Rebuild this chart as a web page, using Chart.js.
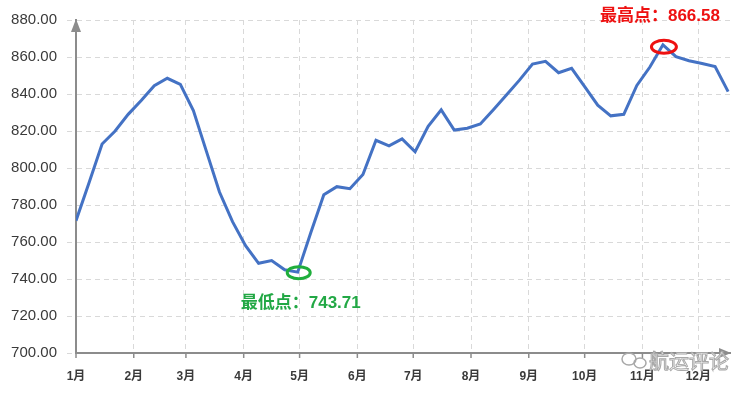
<!DOCTYPE html>
<html>
<head>
<meta charset="utf-8">
<script src="https://cdn.jsdelivr.net/npm/chart.js@4.4.1/dist/chart.umd.min.js"></script>
<style>
  html, body { margin: 0; padding: 0; background: #fff; }
  #wrap { width: 747px; height: 393px; }
</style>
</head>
<body>
<div id="wrap"><canvas id="lineChart"></canvas></div>
<script>
// Month labels and the day of year each month starts on
const monthLabels = ['1月', '2月', '3月', '4月', '5月', '6月', '7月', '8月', '9月', '10月', '11月', '12月'];
const monthStartDays = [0, 31, 59, 90, 120, 151, 181, 212, 243, 273, 304, 334];

// Weekly index values (one per week)
const weeklyIndex = [
    771.5, 792.0, 813.0, 820.0, 829.0, 836.5, 844.5, 848.5, 845.2, 831.0,
    809.0, 787.0, 771.0, 758.0, 748.5, 750.0, 745.0, 743.71, 765.0, 785.5,
    789.9, 788.8, 796.5, 815.0, 812.0, 815.7, 808.8, 822.5, 831.4, 820.5,
    821.5, 823.8, 831.5, 839.5, 847.5, 856.2, 857.7, 851.5, 853.9, 844.0,
    834.0, 828.2, 829.0, 844.6, 854.6, 866.58, 860.2, 858.0, 856.5, 854.8,
    841.3
];
const daysPerWeek = 7;

// Y axis ticks
const yMin = 700;
const yMax = 880;
const yStep = 20;

const axisGray = '#8c8c8c';
const gridGray = '#d9d9d9';

// Arrows, month tick marks, high/low markers and watermark
const decorations = {
    id: 'decorations',
    afterDraw(chart) {
        const { ctx, chartArea: a, scales: { x, y } } = chart;
        ctx.save();

        // axis arrows
        ctx.fillStyle = axisGray;
        ctx.beginPath();
        ctx.moveTo(a.left, a.top - 1);
        ctx.lineTo(a.left - 5, a.top + 12);
        ctx.lineTo(a.left + 5, a.top + 12);
        ctx.closePath();
        ctx.fill();
        ctx.beginPath();
        ctx.moveTo(a.right + 1, a.bottom);
        ctx.lineTo(a.right - 11, a.bottom - 5);
        ctx.lineTo(a.right - 11, a.bottom + 5);
        ctx.closePath();
        ctx.fill();

        // month tick marks under the x axis
        ctx.strokeStyle = axisGray;
        ctx.lineWidth = 1.5;
        monthStartDays.forEach(d => {
            const px = x.getPixelForValue(d);
            ctx.beginPath();
            ctx.moveTo(px, a.bottom);
            ctx.lineTo(px, a.bottom + 5);
            ctx.stroke();
        });

        // high / low markers
        const maxVal = Math.max(...weeklyIndex);
        const minVal = Math.min(...weeklyIndex);
        const maxI = weeklyIndex.indexOf(maxVal);
        const minI = weeklyIndex.indexOf(minVal);
        const hx = x.getPixelForValue(maxI * daysPerWeek);
        const hy = y.getPixelForValue(maxVal);
        const lx = x.getPixelForValue(minI * daysPerWeek);
        const ly = y.getPixelForValue(minVal);

        ctx.lineWidth = 3;
        ctx.strokeStyle = '#ee1111';
        ctx.beginPath();
        ctx.ellipse(hx + 1, hy + 2, 12.5, 6.5, 0, 0, Math.PI * 2);
        ctx.stroke();
        ctx.strokeStyle = '#1fae3c';
        ctx.beginPath();
        ctx.ellipse(lx + 1, ly + 0.5, 11.5, 6, 0, 0, Math.PI * 2);
        ctx.stroke();

        ctx.font = "bold 17px 'Liberation Sans', 'Noto Sans CJK SC', sans-serif";
        ctx.textAlign = 'center';
        ctx.textBaseline = 'middle';
        ctx.fillStyle = '#ee1111';
        ctx.fillText('最高点：' + maxVal.toFixed(2), hx - 3, hy - 29);
        ctx.fillStyle = '#22a845';
        ctx.fillText('最低点：' + minVal.toFixed(2), lx + 3, ly + 31);

        // watermark
        ctx.font = "20px 'Noto Sans CJK SC', sans-serif";
        ctx.lineWidth = 1;
        ctx.strokeStyle = '#a8a8a8';
        ctx.fillStyle = 'rgba(255,255,255,0.9)';
        ctx.fillText('航运评论', 689, 361);
        ctx.strokeText('航运评论', 689, 361);
        ctx.lineWidth = 1.5;
        ctx.beginPath();
        ctx.ellipse(629, 359, 7, 6, 0, 0, Math.PI * 2);
        ctx.stroke();
        ctx.beginPath();
        ctx.ellipse(640, 363, 6, 5, 0, 0, Math.PI * 2);
        ctx.stroke();

        ctx.restore();
    }
};

document.addEventListener('DOMContentLoaded', function() {
    const lineChart = document.getElementById('lineChart');
    const lineCtx = lineChart.getContext('2d');
    new Chart(lineCtx, {
        type: 'line',
        data: {
            datasets: [{
                data: weeklyIndex.map((v, i) => ({ x: i * daysPerWeek, y: v })),
                borderColor: '#4472c4',
                borderWidth: 3,
                pointRadius: 0,
                tension: 0,
                fill: false
            }]
        },
        options: {
            responsive: true,
            maintainAspectRatio: false,
            animation: false,
            layout: { padding: { top: 20, right: 17, left: 0, bottom: 0 } },
            plugins: {
                legend: { display: false },
                tooltip: { enabled: false }
            },
            scales: {
                x: {
                    type: 'linear',
                    min: 0,
                    max: 351,
                    afterBuildTicks: scale => {
                        scale.ticks = monthStartDays.map(d => ({ value: d }));
                    },
                    afterFit: scale => { scale.height = 40; },
                    ticks: {
                        autoSkip: false,
                        maxRotation: 0,
                        padding: 16,
                        color: '#3a3a3a',
                        font: { family: "'Liberation Sans', 'Noto Sans CJK SC', sans-serif", size: 12, weight: 'bold' },
                        callback: (value, index) => monthLabels[index]
                    },
                    grid: {
                        color: gridGray,
                        drawTicks: false
                    },
                    border: { color: axisGray, width: 2, dash: [5, 4] }
                },
                y: {
                    min: yMin,
                    max: yMax,
                    afterFit: scale => { scale.width = 76; },
                    ticks: {
                        stepSize: yStep,
                        padding: 10,
                        color: '#3a3a3a',
                        font: { family: "'Liberation Sans', sans-serif", size: 15 },
                        callback: v => v.toFixed(2)
                    },
                    grid: {
                        color: gridGray,
                        tickColor: gridGray,
                        tickLength: 9,
                        tickBorderDash: [5, 4]
                    },
                    border: { color: axisGray, width: 2, dash: [5, 4] }
                }
            }
        },
        plugins: [decorations]
    });
});
</script>
</body>
</html>
